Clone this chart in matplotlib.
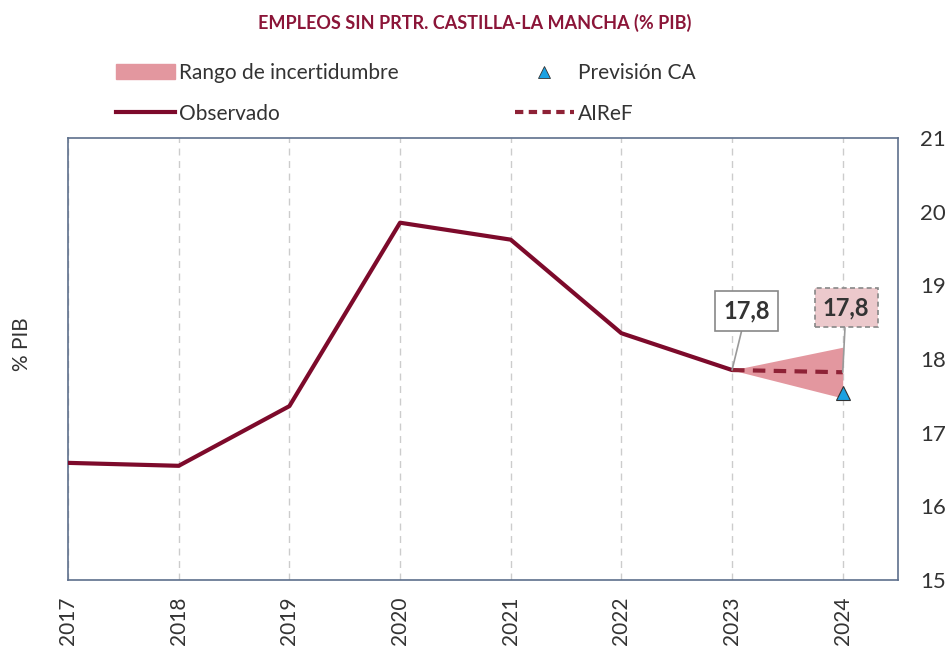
import numpy as np
import matplotlib.pyplot as plt
from matplotlib.patches import Patch
from matplotlib.lines import Line2D

plt.rcParams['font.family'] = ['Lato', 'DejaVu Sans']

years = [2017, 2018, 2019, 2020, 2021, 2022, 2023]
observado = [16.59, 16.55, 17.36, 19.85, 19.62, 18.35, 17.85]

airef_years = [2023, 2024]
airef = [17.85, 17.82]
band_low = [17.85, 17.47]
band_high = [17.85, 18.16]

prevision_year = [2024]
prevision = [17.54]

label_last_obs = "17,8"
label_airef = "17,8"

dark_red = "#7d0a2b"
band_color = "#e3979f"

fig = plt.figure(figsize=(9.49, 6.5), dpi=100)
ax = fig.add_axes([0.0717, 0.1077, 0.8746, 0.68])

ax.fill_between(airef_years, band_low, band_high, color=band_color, lw=0, zorder=2)
ax.plot(years, observado, color=dark_red, lw=3, zorder=3, solid_capstyle='round')
ax.plot(airef_years, airef, color="#8e2236", lw=3, ls=(0, (3, 2)), zorder=3)
ax.plot(prevision_year, prevision, marker='^', ms=10, color="#1ba1e2",
        markeredgecolor="#333333", markeredgewidth=0.8, ls='none', zorder=4)

ax.set_xlim(2017, 2024.5)
ax.set_ylim(15, 21)
ax.set_xticks(range(2017, 2025))
ax.set_xticklabels([str(y) for y in range(2017, 2025)], rotation=90,
                   fontsize=15, color="#333333")
ax.set_yticks(range(15, 22))
ax.yaxis.tick_right()
ax.tick_params(axis='y', length=0, pad=16, labelsize=16, labelcolor="#333333")
ax.tick_params(axis='x', length=0, pad=12)
ax.grid(axis='x', color="#cccccc", ls=(0, (5, 4)), lw=1)
ax.grid(axis='y', visible=False)
for s in ax.spines.values():
    s.set_color("#5d6f8c")
    s.set_linewidth(1.2)

fig.text(0.023, 0.47, "% PIB", rotation=90, fontsize=15, color="#333333",
         ha='center', va='center')

fig.text(0.5, 0.965, "EMPLEOS SIN PRTR. CASTILLA-LA MANCHA (% PIB)", ha='center',
         va='center', fontsize=13, fontweight='bold', color="#8b1538")

# etiquetas de valor
ax.annotate(label_last_obs, xy=(years[-1], observado[-1]), xytext=(2023.13, 18.65),
            fontsize=17, fontweight='bold', color="#333333", ha='center', va='center',
            bbox=dict(boxstyle='square,pad=0.35', fc='white', ec='#888888', lw=1.2),
            arrowprops=dict(arrowstyle='-', color='#999999', lw=1.2,
                            shrinkA=0, shrinkB=0), zorder=5)
ax.annotate(label_airef, xy=(airef_years[-1], airef[-1]), xytext=(2024.03, 18.7),
            fontsize=17, fontweight='bold', color="#333333", ha='center', va='center',
            bbox=dict(boxstyle='square,pad=0.35', fc='#ecc9cc', ec='#888888', lw=1.2,
                      ls=(0, (3, 2))),
            arrowprops=dict(arrowstyle='-', color='#999999', lw=1.2,
                            shrinkA=0, shrinkB=0), zorder=5)

handles = [
    Patch(color=band_color, label="Rango de incertidumbre"),
    Line2D([], [], color=dark_red, lw=3, label="Observado"),
    Line2D([], [], marker='^', color="#1ba1e2", markeredgecolor="#333333",
           markeredgewidth=0.6, ms=8, ls='none', label="Previsión CA"),
    Line2D([], [], color="#8e2236", lw=3, ls=(0, (2, 1.3)), label="AIReF"),
]
leg = fig.legend(handles=handles, ncol=2, loc='upper left',
                 bbox_to_anchor=(0.103, 0.932), frameon=False, fontsize=15,
                 handlelength=2.8, handletextpad=0.2, columnspacing=5.6,
                 labelspacing=1.0)
for t in leg.get_texts():
    t.set_color("#333333")

fig.savefig("out.png", dpi=100)
